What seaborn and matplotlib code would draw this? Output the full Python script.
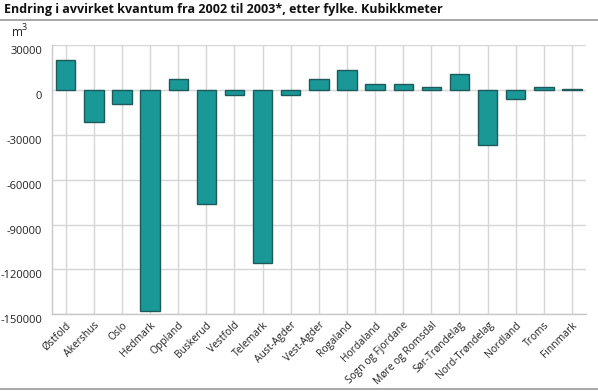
import matplotlib
matplotlib.use("Agg")
import matplotlib.pyplot as plt
import matplotlib.transforms as mtransforms
from matplotlib.lines import Line2D
import seaborn as sns
import pandas as pd

counties = ["Østfold", "Akershus", "Oslo", "Hedmark", "Oppland", "Buskerud",
            "Vestfold", "Telemark", "Aust-Agder", "Vest-Agder", "Rogaland",
            "Hordaland", "Sogn og Fjordane", "Møre og Romsdal", "Sør-Trøndelag",
            "Nord-Trøndelag", "Nordland", "Troms", "Finnmark"]
change = [20000, -21700, -9600, -147800, 7000, -76000,
          -3600, -115800, -3300, 7400, 13000,
          3600, 3600, 2000, 10700,
          -36900, -6000, 2000, 500]
yticks = [30000, 0, -30000, -60000, -90000, -120000, -150000]

title = "Endring i avvirket kvantum fra 2002 til 2003*, etter fylke. Kubikkmeter"
unit = "m"

sns.set_theme(style="white")
plt.rcParams["font.family"] = ["Open Sans", "DejaVu Sans"]

df = pd.DataFrame({"fylke": counties, "endring": change})

fig = plt.figure(figsize=(5.98, 3.91), dpi=100)
ax = fig.add_axes([51.7 / 598, 76.7 / 391, (586 - 51.7) / 598, (314.3 - 45) / 391])

sns.barplot(data=df, x="fylke", y="endring", color="#1a9898", saturation=1,
            edgecolor="#1f5a5a", linewidth=1.0, width=0.69, ax=ax, zorder=3)

ax.set_ylim(-150000, 30000)
ax.set_xlim(-0.5, len(counties) - 0.5)
ax.set_yticks(yticks)
ax.set_yticklabels([str(v) for v in yticks], fontsize=8, color="#222222")
ax.set_xticks(range(len(counties)))
ax.set_xticklabels(counties, rotation=45, ha="right", rotation_mode="anchor",
                   fontsize=7.4, color="#222222")
ax.tick_params(axis="both", length=0)
ax.tick_params(axis="y", pad=7)
ax.tick_params(axis="x", pad=4)
off = mtransforms.ScaledTranslation(0, -5 / 100, fig.dpi_scale_trans)
for lab in ax.get_yticklabels():
    lab.set_transform(lab.get_transform() + off)
ax.set_xlabel("")
ax.set_ylabel("")
ax.grid(True, color="#d6d6d6", linewidth=1.0, zorder=0)
ax.set_axisbelow(True)
for s in ["top", "right"]:
    ax.spines[s].set_visible(False)
for s in ["left", "bottom"]:
    ax.spines[s].set_color("#c8c8c8")
    ax.spines[s].set_linewidth(1.0)

fig.text(4 / 598, 1 - 10 / 391, title, fontsize=9, fontweight="bold",
         va="center", ha="left", color="#111111")
fig.add_artist(Line2D([0, 1], [1 - 19.5 / 391, 1 - 19.5 / 391],
                      color="#999999", linewidth=1.2, transform=fig.transFigure))
fig.add_artist(Line2D([0, 1], [1 - 388.5 / 391, 1 - 388.5 / 391],
                      color="#999999", linewidth=1.2, transform=fig.transFigure))
fig.text(12 / 598, 1 - 33 / 391, unit, fontsize=8.5, va="center", ha="left",
         color="#222222")
fig.text(21.5 / 598, 1 - 27 / 391, "3", fontsize=6.5, va="center", ha="left",
         color="#222222")

fig.savefig("out.png", dpi=100)
